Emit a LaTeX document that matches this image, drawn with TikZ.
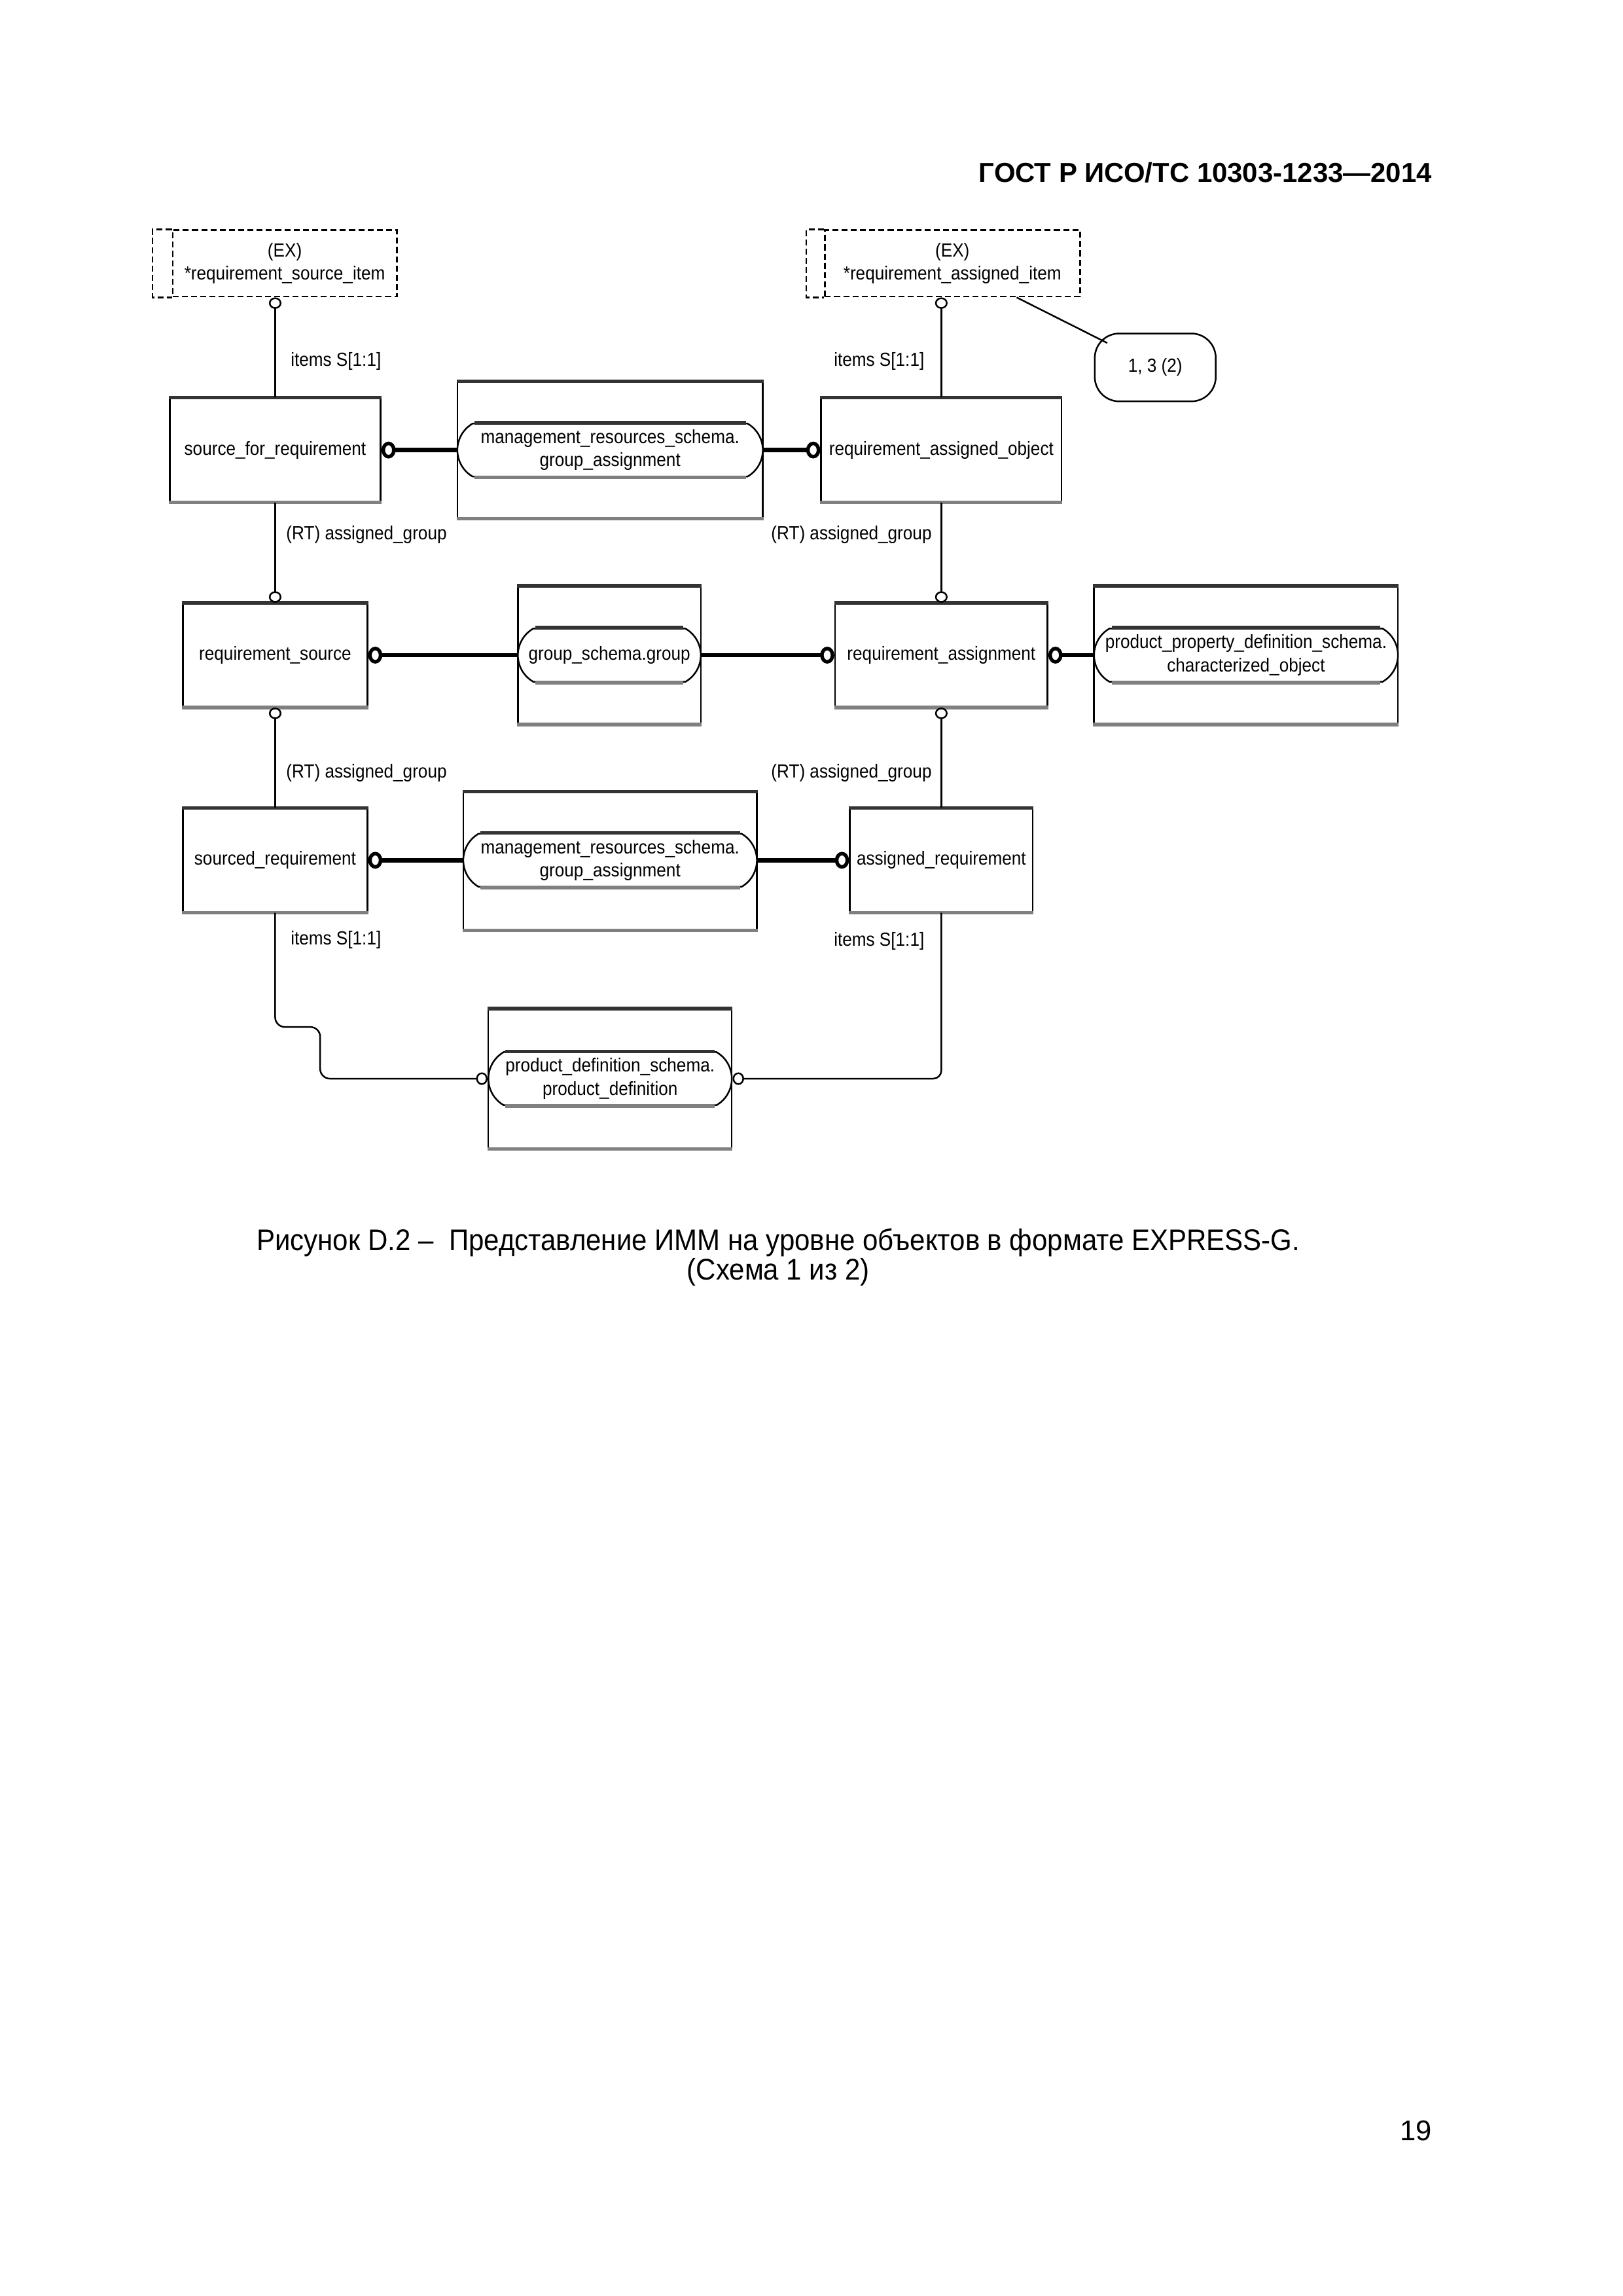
\documentclass[tikz,border=0pt]{standalone}
\usepackage{fontspec}
\setmainfont{Liberation Sans}
\newfontfamily\diagfont[FakeStretch=0.9]{Liberation Sans}
\newfontfamily\capfont[FakeStretch=0.92]{Liberation Sans}
\usetikzlibrary{arrows.meta,shapes.misc,calc}
\newcommand\dpx{0.019091cm}
\newcommand\diagtext{\diagfont\fontsize{7}{8.6}\selectfont}
\tikzset{
	ring/.tip={Circle[open,length=4.2pt,width=4.6pt,line width=0.6pt]},
	bigring/.tip={Circle[open,length=5.2pt,width=6.2pt,line width=1.3pt]},
	entity/.style={draw,line width=0.6pt,inner sep=1pt,align=center,font=\diagtext},
	schemabox/.style={draw,line width=0.6pt},
	schemaoval/.style={draw,fill=white,rounded rectangle,rounded rectangle arc length=120,
		line width=0.6pt,inner xsep=0pt,inner ysep=1pt,align=center,font=\diagtext},
	exbox/.style={draw,dash pattern=on 2.2pt off 1.2pt,line width=0.6pt,align=center,font=\diagtext},
	attr/.style={line width=0.6pt,-ring},
	subtype/.style={line width=1.6pt,-bigring},
	lbl/.style={font=\diagtext,inner sep=0pt},
	rimtop/.style={line width=1.3pt,black!80},
	rimbot/.style={line width=1.3pt,black!50},
}
\begin{document}
\begin{tikzpicture}[x=\dpx,y=-\dpx]
\useasboundingbox[fill=white] (0,0) rectangle (1100,1556);
% page texts
\node[anchor=east,font=\bfseries\fontsize{10.1}{12}\selectfont] (hdr) at (977,117) {ГОСТ Р ИСО/ТС 10303-1233—2014};
\node[align=center,font=\capfont\fontsize{11}{10.8}\selectfont] (cap) at (527.5,852)
	{Рисунок D.2 –\ \ Представление ИММ на уровне объектов в формате EXPRESS-G.\\(Схема 1 из 2)};
\node[anchor=east,font=\fontsize{10.5}{12}\selectfont] (pg) at (977,1444) {19};

% external selects
\node[exbox,minimum width=152*\dpx,minimum height=45*\dpx] (sitem) at (193,178.5)
	{(EX)\\*requirement\_source\_item};
\draw[exbox] (sitem.north west) -- ++(-13,0) |- (sitem.south west);
\node[exbox,minimum width=173*\dpx,minimum height=45*\dpx] (aitem) at (645.5,178.5)
	{(EX)\\*requirement\_assigned\_item};
\draw[exbox] (aitem.north west) -- ++(-12,0) |- (aitem.south west);
\node[draw,line width=0.6pt,rounded corners=9pt,minimum width=82*\dpx,minimum height=46*\dpx,font=\diagtext]
	(note) at (783,249) {1, 3 (2)};

% schema boxes
\node[schemabox,minimum width=207*\dpx,minimum height=92*\dpx] (mb1) at (413.5,305) {};
\node[schemabox,minimum width=124*\dpx,minimum height=93*\dpx] (gb) at (413,444) {};
\node[schemabox,minimum width=206*\dpx,minimum height=93*\dpx] (pb) at (844.5,444) {};
\node[schemabox,minimum width=199*\dpx,minimum height=93*\dpx] (mb2) at (413.5,583.5) {};
\node[schemabox,minimum width=165*\dpx,minimum height=94*\dpx] (pdb) at (413.5,731) {};
\node[schemaoval,minimum width=207*\dpx,minimum height=36*\dpx] (mo1) at (mb1)
	{management\_resources\_schema.\\group\_assignment};
\node[schemaoval,minimum width=124*\dpx,minimum height=36*\dpx] (go) at (gb) {group\_schema.group};
\node[schemaoval,minimum width=206*\dpx,minimum height=36*\dpx] (po) at (pb)
	{product\_property\_definition\_schema.\\characterized\_object};
\node[schemaoval,minimum width=199*\dpx,minimum height=36*\dpx] (mo2) at (413.5,583)
	{management\_resources\_schema.\\group\_assignment};
\node[schemaoval,minimum width=165*\dpx,minimum height=36*\dpx] (pdo) at (pdb)
	{product\_definition\_schema.\\product\_definition};

% entities
\node[entity,minimum width=143*\dpx,minimum height=70*\dpx] (sfr) at (186.5,305) {source\_for\_requirement};
\node[entity,minimum width=163*\dpx,minimum height=70*\dpx] (rao) at (638,305) {requirement\_assigned\_object};
\node[entity,minimum width=125*\dpx,minimum height=70*\dpx] (rsrc) at (186.5,444) {requirement\_source};
\node[entity,minimum width=144*\dpx,minimum height=70*\dpx] (rasg) at (638,444) {requirement\_assignment};
\node[entity,minimum width=125*\dpx,minimum height=70*\dpx] (sreq) at (186.5,583) {sourced\_requirement};
\node[entity,minimum width=124*\dpx,minimum height=70*\dpx] (areq) at (638,583) {assigned\_requirement};

% heavy top and bottom edges
\foreach \n in {sfr,rao,rsrc,rasg,sreq,areq,mb1,gb,pb,mb2,pdb} {
	\draw[rimtop] (\n.north west) -- (\n.north east);
	\draw[rimbot] (\n.south west) -- (\n.south east);
}
\foreach \n/\w in {mo1/92,go/50,po/91,mo2/88,pdo/71} {
	\draw[rimtop] ($(\n.north)+(-\w,0)$) -- ($(\n.north)+(\w,0)$);
	\draw[rimbot] ($(\n.south)+(-\w,0)$) -- ($(\n.south)+(\w,0)$);
}

% subtype links
\draw[subtype] (mo1.west) -- (sfr.east);
\draw[subtype] (mo1.east) -- (rao.west);
\draw[subtype] (go.west) -- (rsrc.east);
\draw[subtype] (go.east) -- (rasg.west);
\draw[subtype] (po.west) -- (rasg.east);
\draw[subtype] (mo2.west) -- (sreq.east);
\draw[subtype] (mo2.east) -- (areq.west);

% attributes
\draw[attr] (sfr.north) -- node[lbl,pos=0.36,anchor=west,xshift=10*\dpx] {items S[1:1]} (sfr.north |- sitem.south);
\draw[attr] (rao.north) -- node[lbl,pos=0.36,anchor=east,xshift=-11*\dpx] {items S[1:1]} (rao.north |- aitem.south);
\draw[attr] (sfr.south) -- node[lbl,pos=0.32,anchor=west,xshift=7*\dpx] {(RT) assigned\_group} (rsrc.north);
\draw[attr] (rao.south) -- node[lbl,pos=0.32,anchor=east,xshift=-6*\dpx] {(RT) assigned\_group} (rasg.north);
\draw[attr] (sreq.north) -- node[lbl,pos=0.35,anchor=west,xshift=7*\dpx] {(RT) assigned\_group} (rsrc.south);
\draw[attr] (areq.north) -- node[lbl,pos=0.35,anchor=east,xshift=-6*\dpx] {(RT) assigned\_group} (rasg.south);
\coordinate (jog) at (217,696);
\draw[attr,rounded corners=3.6pt] (sreq.south) |- node[lbl,pos=0.12,anchor=west,xshift=10*\dpx] {items S[1:1]} (jog) |- (pdo.west);
\draw[attr,rounded corners=3pt] (areq.south) |- node[lbl,pos=0.085,anchor=east,xshift=-11*\dpx] {items S[1:1]} (pdo.east);
\draw[line width=0.6pt] ($(aitem.south west)!0.75!(aitem.south east)$) -- ($(note.north west)+(9,7)$);
\end{tikzpicture}
\end{document}
